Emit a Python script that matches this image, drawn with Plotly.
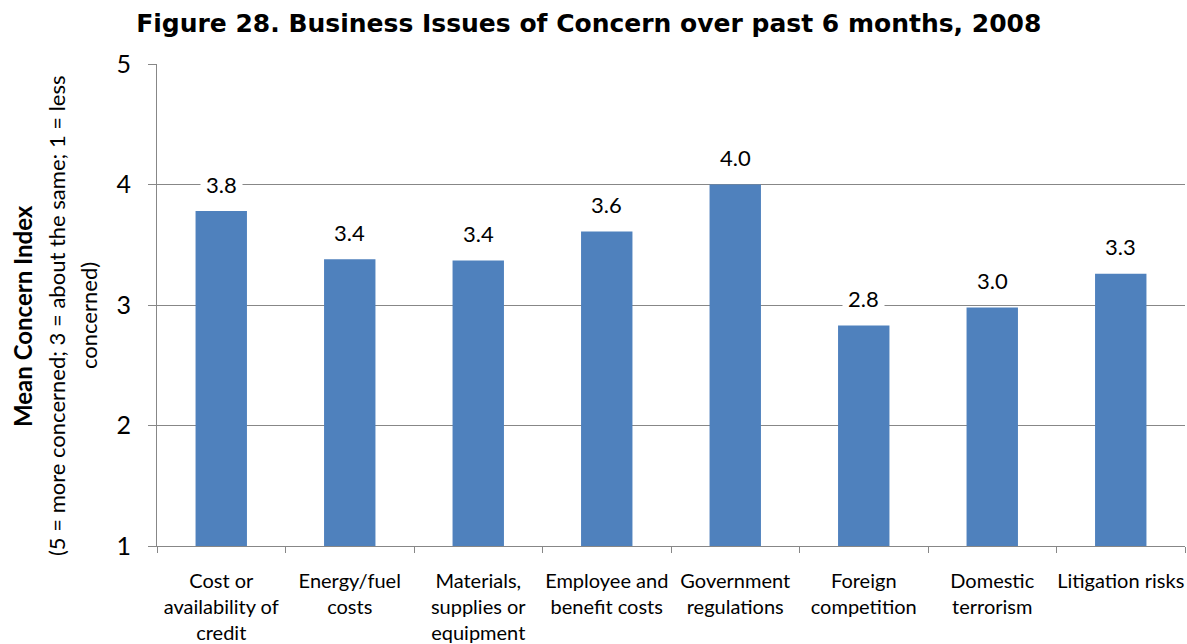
import plotly.graph_objects as go

# Survey results: mean concern index per business issue
categories = [
    "Cost or<br>availability of<br>credit",
    "Energy/fuel<br>costs",
    "Materials,<br>supplies or<br>equipment",
    "Employee and<br>benefit costs",
    "Government<br>regulations",
    "Foreign<br>competition",
    "Domestic<br>terrorism",
    "Litigation risks",
]
mean_concern = [3.78, 3.38, 3.37, 3.61, 4.00, 2.83, 2.98, 3.26]
y_ticks = [1, 2, 3, 4, 5]

BAR_COLOR = "#4F81BD"
GRID_COLOR = "#878787"
FONT = "Lato"

fig = go.Figure(
    go.Bar(
        x=categories,
        y=mean_concern,
        marker=dict(color=BAR_COLOR, line=dict(width=0)),
        width=0.4,
        hoverinfo="x+y",
    )
)

# Value labels on a white box so they sit over the gridlines
for cat, val in zip(categories, mean_concern):
    fig.add_annotation(
        x=cat, y=val, xref="x", yref="y",
        text=f"{val:.1f}",
        showarrow=False,
        yanchor="middle",
        yshift=27,
        bgcolor="white",
        borderpad=5,
        font=dict(family=FONT, size=22, color="#000000"),
    )

# Y-axis title, three rotated lines
y_title_lines = [
    ("<b>Mean Concern Index</b>", -135, 24),
    ("(5 = more concerned; 3 = about the same; 1 = less", -101, 22),
    ("concerned)", -69, 22),
]
for txt, shift, size in y_title_lines:
    fig.add_annotation(
        x=0, y=0.5, xref="paper", yref="paper",
        text=txt, showarrow=False, textangle=-90,
        xanchor="center", yanchor="middle", xshift=shift, yshift=-11,
        font=dict(family=FONT, size=size, color="#000000"),
    )

fig.update_layout(
    width=1187,
    height=644,
    margin=dict(l=157, r=2, t=64, b=98, autoexpand=False),
    paper_bgcolor="white",
    plot_bgcolor="white",
    showlegend=False,
    title=dict(
        text="<b>Figure 28. Business Issues of Concern over past 6 months, 2008</b>",
        x=0.496, xanchor="center", y=0.964, yanchor="middle",
        font=dict(family="DejaVu Sans", size=25, color="#000000"),
    ),
    bargap=0.6,
)

fig.update_xaxes(
    type="category",
    automargin=False,
    tickangle=0,
    showgrid=False,
    showline=True, linecolor=GRID_COLOR, linewidth=1,
    ticks="outside", tickson="boundaries", ticklen=6, tickcolor=GRID_COLOR,
    tickfont=dict(family=FONT, size=20, color="#000000"),
    ticklabelstandoff=17,
)
fig.update_yaxes(
    range=[1, 5],
    automargin=False,
    tickvals=y_ticks,
    showgrid=True, gridcolor=GRID_COLOR, gridwidth=1,
    showline=True, linecolor=GRID_COLOR, linewidth=1,
    ticks="outside", ticklen=8, tickcolor=GRID_COLOR,
    tickfont=dict(family=FONT, size=25, color="#000000"),
    ticklabelstandoff=12,
    zeroline=False,
)

fig.write_html("out.html")
